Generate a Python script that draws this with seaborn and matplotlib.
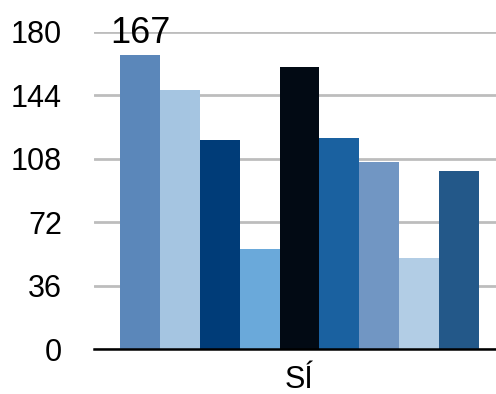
import matplotlib
matplotlib.use("Agg")
import matplotlib.pyplot as plt
import seaborn as sns
import pandas as pd

categories = ["SÍ"]
series = ["S1", "S2", "S3", "S4", "S5", "S6", "S7", "S8", "S9"]
values = [167, 147, 119, 57, 160, 120, 106, 52, 101]
colors = ["#5b87ba", "#a5c5e1", "#003c78", "#6aa9da", "#020a14",
          "#1a61a0", "#7196c3", "#b2cde5", "#235889"]
yticks = [0, 36, 72, 108, 144, 180]

df = pd.DataFrame({
    "cat": categories * len(series),
    "serie": series,
    "valor": values,
})

sns.set_theme(style="white")
plt.rcParams["font.family"] = ["Liberation Sans", "DejaVu Sans"]

fig = plt.figure(figsize=(4.96, 3.94), dpi=100)
ax = fig.add_axes([94 / 496, 1 - 349.3 / 394, 402 / 496, (349.3 - 32) / 394])

sns.barplot(data=df, x="cat", y="valor", hue="serie", palette=colors,
            width=0.8, saturation=1, legend=False, ax=ax, zorder=3,
            linewidth=0, edgecolor="none")

ax.set_xlim(-0.458, 0.438)
ax.set_ylim(0, 180)
ax.set_yticks(yticks)
ax.set_yticklabels([str(t) for t in yticks])
ax.set_xlabel("")
ax.set_ylabel("")

ax.yaxis.grid(True, color="#bdbdbd", linewidth=2, zorder=0)
ax.xaxis.grid(False)
for side in ["left", "right", "top"]:
    ax.spines[side].set_visible(False)
ax.spines["bottom"].set_color("black")
ax.spines["bottom"].set_linewidth(1.8)
ax.spines["bottom"].set_zorder(4)

ax.tick_params(axis="y", length=0, pad=23, labelsize=22, labelcolor="black")
ax.tick_params(axis="x", length=0, pad=11, labelsize=22, labelcolor="black")

# value label on the first bar
first = ax.patches[0]
ax.text(first.get_x() + first.get_width() / 2, values[0] + 2.5, str(values[0]),
        ha="center", va="bottom", fontsize=26, color="black", zorder=5)

fig.savefig("out.png", dpi=100)
